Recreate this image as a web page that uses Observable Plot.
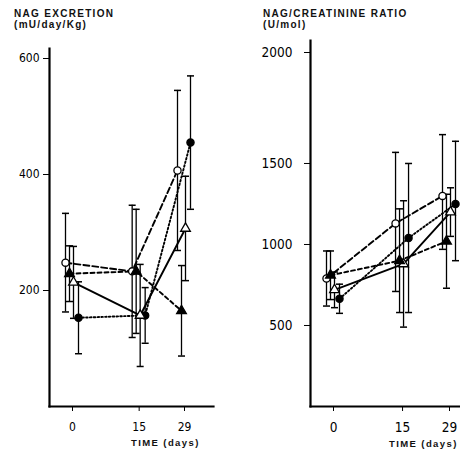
<!DOCTYPE html>
<html>
<head>
<meta charset="utf-8">
<script src="https://cdn.jsdelivr.net/npm/d3@7"></script>
<script src="https://cdn.jsdelivr.net/npm/@observablehq/plot@0.6"></script>
<style>
  html, body { margin: 0; padding: 0; background: #fff; }
  #wrap { position: relative; width: 460px; height: 452px; overflow: hidden; }
  .panel { position: absolute; top: 0; }
  .title { position: absolute; font-family: "Liberation Sans", Arial, sans-serif; font-weight: bold; font-size: 10px; letter-spacing: 1.3px; line-height: 11px; color: #111; white-space: nowrap; }
  .xlab { position: absolute; font-family: "Liberation Sans", Arial, sans-serif; font-weight: bold; font-size: 9.5px; letter-spacing: 1.4px; color: #111; white-space: nowrap; }
</style>
</head>
<body>
<div id="wrap">
  <div class="panel" id="left" style="left:0px"></div>
  <div class="panel" id="right" style="left:230px"></div>
  <div class="title" style="left:14px; top:8px">NAG EXCRETION<br>(mU/day/Kg)</div>
  <div class="title" style="left:263px; top:8px">NAG/CREATININE RATIO<br>(U/mol)</div>
  <div class="xlab" style="left:131px; top:437px">TIME (days)</div>
  <div class="xlab" style="left:389px; top:438px">TIME (days)</div>
</div>
<script>
// ---- data ----
const days = [0, 15, 29];
const seriesNames = ["open circle", "filled circle", "open triangle", "filled triangle"];

// NAG excretion (mU/day/Kg): means and error half-widths
const nagOpenCircle = [248, 233, 407];
const nagOpenCircleErr = [85, 114, 138];
const nagFilledCircle = [153, 157, 455];
const nagFilledCircleErr = [62, 48, 115];
const nagOpenTriangle = [214, 157, 307];
const nagOpenTriangleErr = [62, 88, 90];
const nagFilledTriangle = [229, 233, 165];
const nagFilledTriangleErr = [48, 107, 78];
const nagTicks = [200, 400, 600];

// NAG/creatinine ratio (U/mol)
const ratioOpenCircle = [790, 1130, 1300];
const ratioOpenCircleErr = [170, 420, 330];
const ratioFilledCircle = [665, 1040, 1250];
const ratioFilledCircleErr = [90, 460, 350];
const ratioOpenTriangle = [720, 880, 1200];
const ratioOpenTriangleErr = [110, 390, 150];
const ratioFilledTriangle = [810, 900, 1020];
const ratioFilledTriangleErr = [150, 320, 290];
const ratioTicks = [500, 1000, 1500, 2000];

// ---- styles ----
const styles = {
  "open circle":     {symbol: "circle",   fill: "white", dash: "6,3",  dx: -7},
  "filled circle":   {symbol: "circle",   fill: "black", dash: "1.6,2.2", dx: 6},
  "open triangle":   {symbol: "triangle", fill: "white", dash: null,   dx: 1},
  "filled triangle": {symbol: "triangle", fill: "black", dash: "4,3",  dx: -3}
};

// the original axes are not evenly spaced: piecewise-linear display transforms
const dayPos = d3.scaleLinear().domain([0, 15, 29]).range([0, 15, 25.2]);
const ratioPos = d3.scaleLinear().domain([0, 1500, 2000]).range([0, 1500, 2185]);
const identity = d3.scaleLinear();

const capSymbol = {
  draw(context, size) {
    const w = Math.sqrt(size / Math.PI);
    context.moveTo(-w, 0);
    context.lineTo(w, 0);
  }
};

function buildRows(means, errs) {
  const rows = [];
  seriesNames.forEach((s, i) => {
    days.forEach((d, j) => {
      rows.push({series: s, day: d, mean: means[i][j], lo: means[i][j] - errs[i][j], hi: means[i][j] + errs[i][j]});
    });
  });
  return rows;
}

function panel({rows, width, marginLeft, marginRight, marginTop, xRange, yDomain, yRange, yPos, yTicks, fontSize, yPad}) {
  const marks = [
    Plot.frame({anchor: "left", strokeWidth: 2.2}),
    Plot.frame({anchor: "bottom", strokeWidth: 2.2})
  ];
  for (const s of seriesNames) {
    const st = styles[s];
    const data = rows.filter(r => r.series === s);
    marks.push(Plot.ruleX(data, {x: "day", y1: "lo", y2: "hi", dx: st.dx, stroke: "black", strokeWidth: 1.3}));
    marks.push(Plot.dot(data, {x: "day", y: "hi", dx: st.dx, symbol: capSymbol, r: 3.5, stroke: "black", strokeWidth: 1.5, fill: "none"}));
    marks.push(Plot.dot(data, {x: "day", y: "lo", dx: st.dx, symbol: capSymbol, r: 3.5, stroke: "black", strokeWidth: 1.5, fill: "none"}));
  }
  for (const s of seriesNames) {
    const st = styles[s];
    const data = rows.filter(r => r.series === s);
    marks.push(Plot.line(data, {x: "day", y: "mean", dx: st.dx, stroke: "black", strokeWidth: 1.9, strokeDasharray: st.dash}));
  }
  for (const s of seriesNames) {
    const st = styles[s];
    const data = rows.filter(r => r.series === s);
    marks.push(Plot.dot(data, {x: "day", y: "mean", dx: st.dx, symbol: st.symbol, r: 3.6, fill: st.fill, stroke: "black", strokeWidth: 1.3}));
  }
  return Plot.plot({
    width, height: 452,
    marginLeft, marginRight, marginTop, marginBottom: 46,
    style: {fontFamily: "'DejaVu Sans Condensed', 'Liberation Sans Narrow', sans-serif", fontSize: fontSize, color: "black", background: "white"},
    x: {type: "linear", transform: dayPos, domain: [0, 25.2], range: xRange,
        ticks: days.map(dayPos), tickFormat: p => String(Math.round(dayPos.invert(p))),
        tickSize: 5, tickPadding: 11, label: null},
    y: {type: "linear", transform: yPos, domain: yDomain.map(yPos), range: yRange,
        ticks: yTicks.map(yPos), tickFormat: p => String(Math.round(yPos.invert(p))),
        tickSize: 6, tickPadding: yPad, label: null},
    marks
  });
}

const nagRows = buildRows(
  [nagOpenCircle, nagFilledCircle, nagOpenTriangle, nagFilledTriangle],
  [nagOpenCircleErr, nagFilledCircleErr, nagOpenTriangleErr, nagFilledTriangleErr]
);
const ratioRows = buildRows(
  [ratioOpenCircle, ratioFilledCircle, ratioOpenTriangle, ratioFilledTriangle],
  [ratioOpenCircleErr, ratioFilledCircleErr, ratioOpenTriangleErr, ratioFilledTriangleErr]
);

document.getElementById("left").appendChild(panel({
  rows: nagRows, width: 230, marginLeft: 49, marginRight: 17, marginTop: 48,
  xRange: [72, 184], yDomain: [0, 600], yRange: [406, 58], yPos: identity, yTicks: nagTicks,
  fontSize: "12px", yPad: 4
}));
document.getElementById("right").appendChild(panel({
  rows: ratioRows, width: 230, marginLeft: 80, marginRight: 0, marginTop: 40,
  xRange: [103, 219], yDomain: [0, 2000], yRange: [406, 52], yPos: ratioPos, yTicks: ratioTicks,
  fontSize: "13.5px", yPad: 12
}));
</script>
</body>
</html>
